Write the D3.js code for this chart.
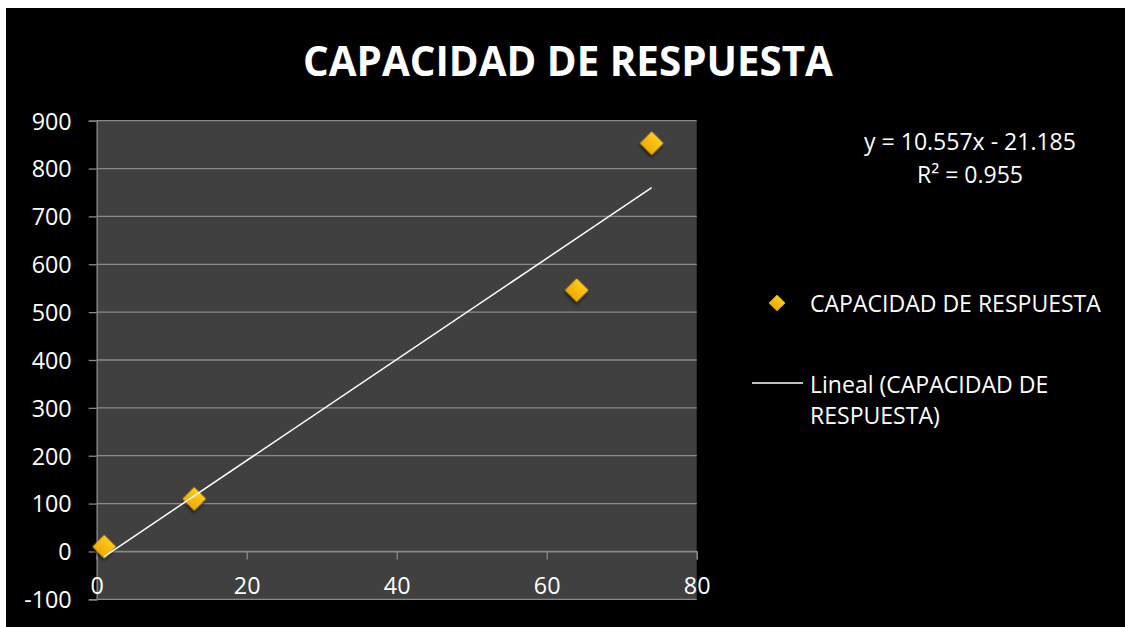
<!DOCTYPE html>
<html><head><meta charset="utf-8">
<script src="https://cdn.jsdelivr.net/npm/d3@7"></script>
<style>html,body{margin:0;padding:0;background:#fff;}svg{display:block;}</style>
</head><body>
<svg id="c" width="1125" height="627"></svg>
<script>
const title = "CAPACIDAD DE RESPUESTA";
const xValues = [1, 13, 64, 74];
const yValues = [10, 110, 546, 853];
const xTicks = [0, 20, 40, 60, 80];
const yTicks = [-100, 0, 100, 200, 300, 400, 500, 600, 700, 800, 900];
const slope = 10.557, intercept = -21.185;
const eqLines = ["y = 10.557x - 21.185", "R² = 0.955"];
const legendLabels = ["CAPACIDAD DE RESPUESTA", "Lineal (CAPACIDAD DE", "RESPUESTA)"];

const svg = d3.select("#c");
const font = "'Open Sans', sans-serif";
svg.append("rect").attr("x",6).attr("y",8).attr("width",1119).attr("height",619).attr("fill","#000");

const x = d3.scaleLinear().domain([0,80]).range([96.7,696.7]);
const y = d3.scaleLinear().domain([-100,900]).range([599.3,120.7]);

// fit font size so that a reference string gets a target width
function fitSize(str, target, weight){
  const t = svg.append("text").attr("font-family",font).attr("font-size",20).attr("font-weight",weight||"normal").text(str);
  const w = t.node().getComputedTextLength(); t.remove();
  return 20*target/w;
}
const txtSize = fitSize(legendLabels[0], 291);
const tickSize = fitSize("900", 40);
const titleSize = fitSize(title, 530, "bold");

const defs = svg.append("defs");
const g1 = defs.append("linearGradient").attr("id","dg").attr("x1",0).attr("y1",0).attr("x2",0).attr("y2",1);
g1.append("stop").attr("offset","0%").attr("stop-color","#FFCB1A");
g1.append("stop").attr("offset","100%").attr("stop-color","#F0AA00");
const f = defs.append("filter").attr("id","sh").attr("x","-50%").attr("y","-50%").attr("width","200%").attr("height","200%");
f.append("feDropShadow").attr("dx",1.5).attr("dy",2).attr("stdDeviation",1.5).attr("flood-color","#000").attr("flood-opacity",0.7);

// plot area
svg.append("rect").attr("x",x(0)).attr("y",y(900)).attr("width",x(80)-x(0)).attr("height",y(-100)-y(900)).attr("fill","#404040");

// gridlines
svg.append("g").selectAll("line").data(yTicks).join("line")
  .attr("x1",x(0)).attr("x2",x(80)).attr("y1",d=>y(d)).attr("y2",d=>y(d))
  .attr("stroke","#8a8a8a").attr("stroke-width",1.3);

// y axis
const fmt = d => String(d);
const yAxis = d3.axisLeft(y).tickValues(yTicks).tickSize(8).tickPadding(17).tickFormat(fmt);
const ya = svg.append("g").attr("transform",`translate(${x(0)},0)`).call(yAxis);
ya.select(".domain").attr("stroke","#8a8a8a").attr("stroke-width",1.3);
ya.selectAll(".tick line").attr("stroke","#8a8a8a").attr("stroke-width",1.3);
ya.selectAll(".tick text").attr("fill","#fff").attr("font-size",tickSize).attr("font-family",font).attr("dy","0.36em");

// x axis at y=0
const xAxis = d3.axisBottom(x).tickValues(xTicks).tickSize(8).tickPadding(16).tickFormat(fmt);
const xa = svg.append("g").attr("transform",`translate(0,${y(0)})`).call(xAxis);
xa.select(".domain").attr("stroke","#8a8a8a").attr("stroke-width",1.3);
xa.selectAll(".tick line").attr("stroke","#8a8a8a").attr("stroke-width",1.3);
xa.selectAll(".tick text").attr("fill","#fff").attr("font-size",tickSize).attr("font-family",font)
  .attr("y",43).attr("dy",0);

// markers
const diamond = d3.symbol().type(d3.symbolSquare).size(275);
svg.append("g").selectAll("path").data(xValues.map((v,i)=>[v,yValues[i]])).join("path")
  .attr("d",diamond)
  .attr("transform",d=>`translate(${x(d[0])},${y(d[1])}) rotate(45)`)
  .attr("fill","url(#dg)").attr("filter","url(#sh)");

// trendline
const xmin = d3.min(xValues), xmax = d3.max(xValues);
svg.append("line")
  .attr("x1",x(xmin)).attr("y1",y(slope*xmin+intercept))
  .attr("x2",x(xmax)).attr("y2",y(slope*xmax+intercept))
  .attr("stroke","#fff").attr("stroke-width",1.5);

// title
svg.append("text").attr("x",568).attr("y",76).attr("text-anchor","middle")
  .attr("fill","#fff").attr("font-weight","bold").attr("font-size",titleSize).attr("font-family",font).text(title);

// equation
svg.selectAll(".eq").data(eqLines).join("text").attr("class","eq")
  .attr("x",970).attr("y",(d,i)=>150+i*33).attr("text-anchor","middle")
  .attr("fill","#fff").attr("font-size",txtSize).attr("font-family",font).text(d=>d);

// legend
svg.append("path").attr("d",d3.symbol().type(d3.symbolSquare).size(140))
  .attr("transform","translate(777,303) rotate(45)").attr("fill","url(#dg)");
svg.append("line").attr("x1",752).attr("x2",803).attr("y1",383).attr("y2",383).attr("stroke","#fff").attr("stroke-width",1.5);
const lg = [[810,312,legendLabels[0]],[810,393,legendLabels[1]],[810,424,legendLabels[2]]];
svg.selectAll(".lg").data(lg).join("text").attr("class","lg")
  .attr("x",d=>d[0]).attr("y",d=>d[1]).attr("fill","#fff").attr("font-size",txtSize).attr("font-family",font).text(d=>d[2]);
</script>
</body></html>
